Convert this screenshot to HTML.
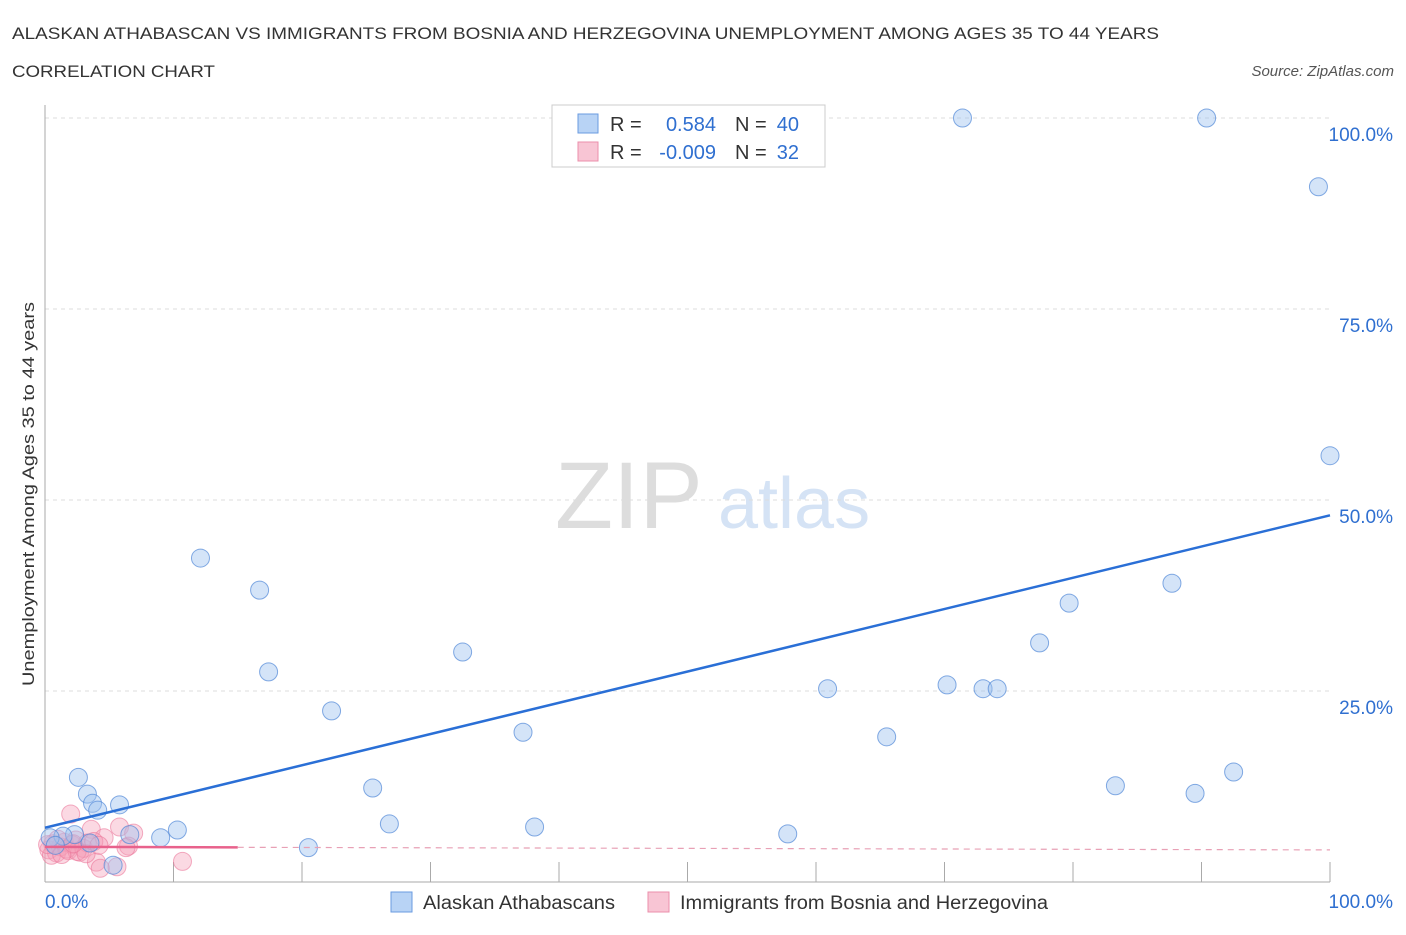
<!DOCTYPE html>
<html><head><meta charset="utf-8"><style>
body{margin:0;background:#fff;font-family:"Liberation Sans",sans-serif}
svg text{font-family:"Liberation Sans",sans-serif}
</style></head><body>
<svg width="1406" height="930" xmlns="http://www.w3.org/2000/svg">
<text x="12" y="39" font-size="17" fill="#333" textLength="1147" lengthAdjust="spacingAndGlyphs">ALASKAN ATHABASCAN VS IMMIGRANTS FROM BOSNIA AND HERZEGOVINA UNEMPLOYMENT AMONG AGES 35 TO 44 YEARS</text>
<text x="12" y="77" font-size="17" fill="#333" textLength="203" lengthAdjust="spacingAndGlyphs">CORRELATION CHART</text>
<text x="1394" y="76" font-size="15" fill="#555" text-anchor="end" font-style="italic">Source: ZipAtlas.com</text>
<text x="555" y="528" font-size="95" fill="#ddd" font-family="Liberation Serif">ZIP</text>
<text x="718" y="528" font-size="72" fill="#d5e3f5">atlas</text>
<g id="grid"></g>
<g id="axes"></g>
<g id="marks"></g>
<text transform="translate(34,494) rotate(-90)" font-size="17" fill="#333" text-anchor="middle" textLength="384" lengthAdjust="spacingAndGlyphs">Unemployment Among Ages 35 to 44 years</text>
<g>
<rect x="552" y="105" width="273" height="62" fill="#fff" stroke="#ccc"/>
<rect x="578" y="114" width="20" height="19" fill="#b8d3f5" stroke="#6a9be0"/>
<rect x="578" y="142" width="20" height="19" fill="#f8c5d4" stroke="#eb8fab"/>
<text x="610" y="131" font-size="20" fill="#333">R =</text>
<text x="716" y="131" font-size="20" fill="#2f6fd0" text-anchor="end">0.584</text>
<text x="735" y="131" font-size="20" fill="#333">N =</text>
<text x="799" y="131" font-size="20" fill="#2f6fd0" text-anchor="end">40</text>
<text x="610" y="159" font-size="20" fill="#333">R =</text>
<text x="716" y="159" font-size="20" fill="#2f6fd0" text-anchor="end">-0.009</text>
<text x="735" y="159" font-size="20" fill="#333">N =</text>
<text x="799" y="159" font-size="20" fill="#2f6fd0" text-anchor="end">32</text>
</g>
<g>
<rect x="391" y="892" width="21" height="20" fill="#b8d3f5" stroke="#6a9be0"/>
<text x="423" y="909" font-size="19" fill="#333" textLength="192" lengthAdjust="spacingAndGlyphs">Alaskan Athabascans</text>
<rect x="648" y="892" width="21" height="20" fill="#f8c5d4" stroke="#eb8fab"/>
<text x="680" y="909" font-size="19" fill="#333" textLength="368" lengthAdjust="spacingAndGlyphs">Immigrants from Bosnia and Herzegovina</text>
</g>
</svg>
<script>
const yTicks=[25,50,75,100];
const yTickLabels=["25.0%","50.0%","75.0%","100.0%"];
const blueX=[71.4,90.4,99.1,100,12.1,16.7,17.4,22.3,32.5,37.2,25.5,26.8,38.1,20.5,60.9,65.5,70.2,73,74.1,77.4,79.7,87.7,83.3,89.5,92.5,57.8,2.6,3.3,3.7,4.1,5.8,10.3,9.0,6.6,5.3,2.3,1.4,0.4,0.8,3.5];
const blueY=[100,100,91,55.8,42.4,38.2,27.5,22.4,30.1,19.6,12.3,7.6,7.2,4.5,25.3,19,25.8,25.3,25.3,31.3,36.5,39.1,12.6,11.6,14.4,6.3,13.7,11.5,10.3,9.4,10.1,6.8,5.8,6.2,2.2,6.2,6,5.8,4.8,5.1];
const pinkX=[2,3.6,5.8,6.9,4.6,10.7,4,5.6,4.3,6.5,0.3,0.6,0.9,1.2,1.5,1.8,2.1,2.4,2.7,3,3.3,0.5,1.0,1.7,2.5,3.2,3.8,4.2,0.2,1.3,2.2,6.3];
const pinkY=[8.9,6.9,7.2,6.4,5.8,2.7,2.6,2,1.8,4.7,4.2,5.0,3.8,4.6,5.2,4.1,4.9,5.5,3.9,4.4,5.1,3.5,5.6,4.3,4.0,3.7,5.3,4.8,4.9,3.6,5.0,4.5];
const blueTrend=[7.1,48];
const pinkTrend=[4.6,4.2];
const NS="http://www.w3.org/2000/svg";
const X=v=>45+v*12.85, Y=v=>882-v*7.64;
function mk(t,a,p){const e=document.createElementNS(NS,t);for(const k in a)e.setAttribute(k,a[k]);p.appendChild(e);return e;}
const grid=document.getElementById('grid'),axes=document.getElementById('axes'),marks=document.getElementById('marks');
yTicks.forEach((t,i)=>{
 const l=mk('line',{x1:45,x2:1330,y1:Y(t),y2:Y(t),stroke:'#ddd','stroke-dasharray':'4,4'},grid);
 
 
 const tx=mk('text',{x:1393,y:Y(t)+23,'font-size':19,fill:'#2f6fd0','text-anchor':'end'},axes);tx.textContent=yTickLabels[i];
 
 
});
let a=mk('line',{x1:45,x2:45,y1:105,y2:882,stroke:'#aaa'},axes);


a=mk('line',{x1:45,x2:1330,y1:882,y2:882,stroke:'#aaa'},axes);


for(let i=1;i<=10;i++){const tk=mk('line',{x1:X(i*10),x2:X(i*10),y1:862,y2:882,stroke:'#aaa'},axes);
 
 }
let t=mk('text',{x:45,y:908,'font-size':19,fill:'#2f6fd0'},axes);t.textContent='0.0%';


t=mk('text',{x:1393,y:908,'font-size':19,fill:'#2f6fd0','text-anchor':'end'},axes);t.textContent='100.0%';


pinkX.forEach((v,i)=>{const c=mk('circle',{cx:X(v),cy:Y(pinkY[i]),r:9,fill:'rgba(244,160,185,0.4)',stroke:'rgba(235,120,155,0.6)'},marks);
 
 });
blueX.forEach((v,i)=>{const c=mk('circle',{cx:X(v),cy:Y(blueY[i]),r:9,fill:'rgba(160,195,240,0.45)',stroke:'rgba(80,135,215,0.7)'},marks);
 
 });
let ln=mk('line',{x1:X(0),x2:X(100),y1:Y(blueTrend[0]),y2:Y(blueTrend[1]),stroke:'#2a6fd6','stroke-width':2.5},marks);


const pm=p=>pinkTrend[0]+(pinkTrend[1]-pinkTrend[0])*p/100;
ln=mk('line',{x1:X(0),x2:X(15),y1:Y(pinkTrend[0]),y2:Y(pm(15)),stroke:'#e8628c','stroke-width':2.5},marks);


ln=mk('line',{x1:X(15),x2:X(100),y1:Y(pm(15)),y2:Y(pinkTrend[1]),stroke:'#e8a0b5','stroke-width':1.2,'stroke-dasharray':'6,5'},marks);


</script>
</body></html>
